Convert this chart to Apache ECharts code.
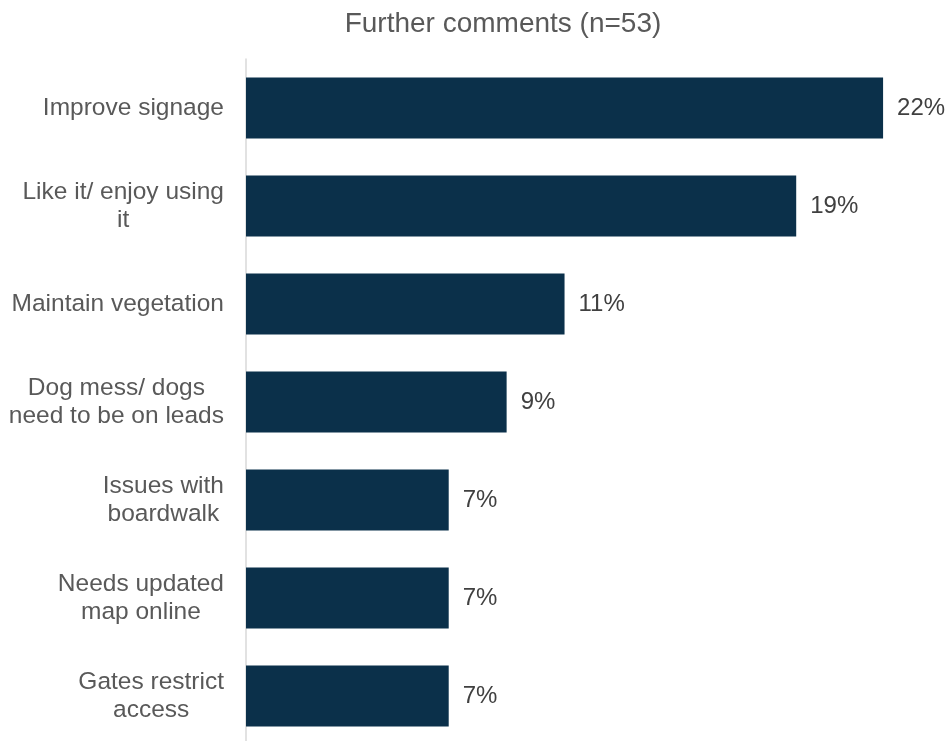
<!DOCTYPE html>
<html>
<head>
<meta charset="utf-8">
<title>Further comments</title>
<script src="https://cdn.jsdelivr.net/npm/echarts@6/dist/echarts.min.js"></script>
<style>
  html, body { margin: 0; padding: 0; background: #ffffff; }
  #chart { width: 948px; height: 741px; }
</style>
</head>
<body>
<div id="chart"></div>
<script>
// Comment themes, top to bottom
const categories = [
  'Improve signage',
  'Like it/ enjoy using\nit',
  'Maintain vegetation',
  'Dog mess/ dogs\nneed to be on leads',
  'Issues with\nboardwalk',
  'Needs updated\nmap online',
  'Gates restrict\naccess'
];
// Share of respondents (%)
const values = [22, 19, 11, 9, 7, 7, 7];
const titleText = 'Further comments (n=53)';

const FONT = '"Liberation Sans", Arial, Helvetica, sans-serif';

const chart = echarts.init(document.getElementById('chart'), null, { renderer: 'canvas' });

chart.setOption({
  animation: false,
  backgroundColor: '#ffffff',
  title: {
    text: titleText,
    left: 498,
    textAlign: 'center',
    top: 5,
    textStyle: { fontFamily: FONT, fontSize: 28, fontWeight: 'normal', color: '#595959' }
  },
  grid: {
    left: 246, top: 59, width: 695, height: 686,
    containLabel: false,
    outerBoundsMode: 'none'
  },
  xAxis: {
    type: 'value',
    min: 0,
    max: 24,
    show: false
  },
  yAxis: {
    type: 'category',
    data: categories,
    inverse: true,
    axisLine: { show: true, lineStyle: { color: '#d9d9d9', width: 1.5 } },
    axisTick: { show: false },
    splitLine: { show: false },
    axisLabel: {
      margin: 22,
      align: 'right',
      color: '#595959',
      fontFamily: FONT,
      fontSize: 24.5,
      lineHeight: 28,
      formatter: function (v) {
        return v.split('\n').map(function (line) { return '{c|' + line + '}'; }).join('\n');
      },
      rich: {
        c: { align: 'center', color: '#595959', fontFamily: FONT, fontSize: 24.5, lineHeight: 28 }
      }
    }
  },
  series: [{
    type: 'bar',
    data: values,
    barCategoryGap: '37.7%',
    itemStyle: { color: '#0b304a' },
    label: {
      show: true,
      position: 'right',
      distance: 14,
      formatter: '{c}%',
      color: '#404040',
      fontFamily: FONT,
      fontSize: 24
    }
  }]
});
</script>
</body>
</html>
